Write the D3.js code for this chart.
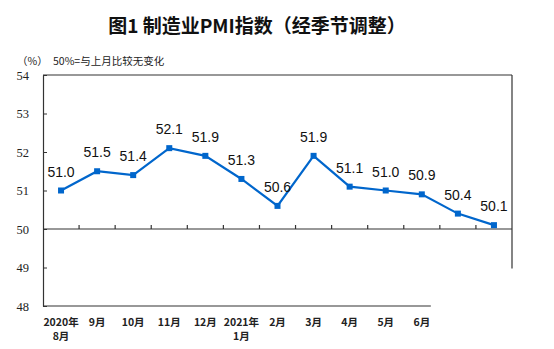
<!DOCTYPE html>
<html>
<head>
<meta charset="utf-8">
<script src="https://cdn.jsdelivr.net/npm/d3@7"></script>
<style>
  html, body { margin: 0; padding: 0; background: #fff; }
  svg { display: block; }
</style>
</head>
<body>
<svg id="chart" width="554" height="349"></svg>
<script>
// Manufacturing PMI, seasonally adjusted, Aug 2020 – Aug 2021
const months = ["2020-08","2020-09","2020-10","2020-11","2020-12","2021-01","2021-02",
                "2021-03","2021-04","2021-05","2021-06","2021-07","2021-08"];
const pmiValues = [51.0, 51.5, 51.4, 52.1, 51.9, 51.3, 50.6, 51.9, 51.1, 51.0, 50.9, 50.4, 50.1];
const xTickLines1 = ["2020年","9月","10月","11月","12月","2021年","2月","3月","4月","5月","6月"];
const xTickLines2 = ["8月","","","","","1月","","","","",""];
const yTicks = [48, 49, 50, 51, 52, 53, 54];

(function () {
  const svg = d3.select("#chart");
  const plotLeft = 43, plotRight = 512, plotTop = 75, plotBottom = 306;
  const axisColor = "#333";
  const lineColor = "#0066CC";

  const x = d3.scaleBand().domain(months).range([plotLeft, plotRight]).paddingInner(0).paddingOuter(0);
  const y = d3.scaleLinear().domain([48, 54]).range([plotBottom, plotTop]);

  // Title
  svg.append("text")
    .attr("x", 257).attr("y", 33)
    .attr("text-anchor", "middle")
    .attr("font-family", "'Noto Sans CJK SC', sans-serif")
    .attr("font-weight", "bold")
    .attr("font-size", 19)
    .attr("fill", "#111")
    .text("图1 制造业PMI指数（经季节调整）");

  // Unit and note
  svg.append("text")
    .attr("x", 17).attr("y", 65)
    .attr("font-family", "'Noto Sans CJK SC', sans-serif")
    .attr("font-size", 10.5).attr("fill", "#222")
    .text("（%）");
  svg.append("text")
    .attr("x", 53).attr("y", 65)
    .attr("font-family", "'Noto Sans CJK SC', sans-serif")
    .attr("font-size", 10.5).attr("fill", "#222")
    .text("50%=与上月比较无变化");

  // Frame: top edge, right edge (down to 49), bottom edge
  const frame = svg.append("g").attr("stroke", axisColor).attr("stroke-width", 1.2).attr("fill", "none");
  frame.append("line").attr("x1", plotLeft).attr("x2", plotRight).attr("y1", plotTop).attr("y2", plotTop);
  frame.append("line").attr("x1", plotRight).attr("x2", plotRight).attr("y1", plotTop).attr("y2", y(49) + 1);
  frame.append("line").attr("x1", plotLeft).attr("x2", x(months[11]) - 9).attr("y1", plotBottom).attr("y2", plotBottom);

  // Left y axis with inward ticks
  const yAxis = d3.axisLeft(y).tickValues(yTicks).tickSizeInner(-4).tickSizeOuter(0).tickPadding(14)
    .tickFormat(d3.format("d"));
  const gy = svg.append("g").attr("transform", `translate(${plotLeft},0)`).call(yAxis);
  gy.select(".domain").attr("stroke", axisColor).attr("stroke-width", 1.2);
  gy.selectAll(".tick line").attr("stroke", axisColor);
  gy.selectAll(".tick text")
    .attr("font-family", "'Liberation Serif', serif")
    .attr("font-size", 12.5).attr("fill", "#222");

  // 50 reference line with category boundary ticks
  const g50 = svg.append("g").attr("stroke", axisColor).attr("stroke-width", 1.2);
  g50.append("line").attr("x1", plotLeft).attr("x2", plotRight).attr("y1", y(50)).attr("y2", y(50));
  months.slice(1).forEach(m => {
    g50.append("line").attr("x1", x(m)).attr("x2", x(m)).attr("y1", y(50)).attr("y2", y(50) - 4);
  });

  // Category labels
  const labelG = svg.append("g")
    .attr("font-family", "'Noto Sans CJK SC', sans-serif")
    .attr("font-size", 10.5).attr("font-weight", "bold").attr("fill", "#222")
    .attr("text-anchor", "middle");
  xTickLines1.forEach((t, i) => {
    const cx = x(months[i]) + x.bandwidth() / 2;
    labelG.append("text").attr("x", cx).attr("y", 326).text(t);
    if (xTickLines2[i]) labelG.append("text").attr("x", cx).attr("y", 340).text(xTickLines2[i]);
  });

  // Data line
  const cxOf = (d, i) => x(months[i]) + x.bandwidth() / 2;
  const line = d3.line().x((d, i) => cxOf(d, i)).y(d => y(d));
  svg.append("path")
    .datum(pmiValues)
    .attr("d", line)
    .attr("fill", "none")
    .attr("stroke", lineColor)
    .attr("stroke-width", 2.2);

  svg.append("g").selectAll("rect")
    .data(pmiValues).join("rect")
    .attr("x", (d, i) => cxOf(d, i) - 3)
    .attr("y", d => y(d) - 3)
    .attr("width", 6).attr("height", 6)
    .attr("fill", lineColor);

  // Value labels
  svg.append("g").selectAll("text")
    .data(pmiValues).join("text")
    .attr("x", (d, i) => cxOf(d, i))
    .attr("y", d => y(d) - 14)
    .attr("text-anchor", "middle")
    .attr("font-family", "'Liberation Sans', Arial, sans-serif")
    .attr("font-size", 14).attr("fill", "#111")
    .text(d => d.toFixed(1));
})();
</script>
</body>
</html>
